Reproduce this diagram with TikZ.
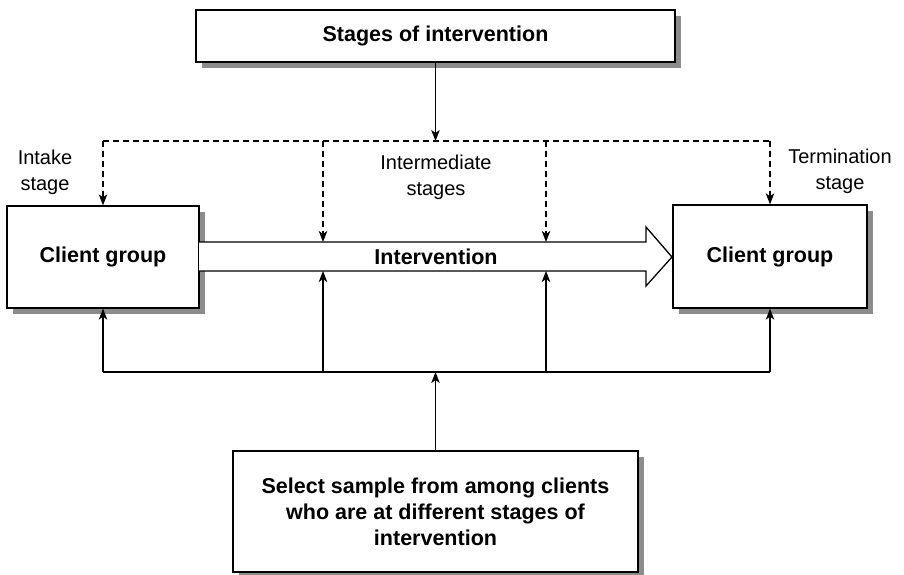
\documentclass[tikz,border=0pt]{standalone}
\usepackage{fontspec}
\setmainfont{Liberation Sans}
\usetikzlibrary{arrows.meta,shadows}
\begin{document}
\begin{tikzpicture}[x=1pt,y=-1pt,
  box/.style={draw,line width=1.3pt,fill=white,align=center,inner sep=0pt,
    font=\bfseries\fontsize{21.5}{26}\selectfont,
    drop shadow={shadow xshift=6pt,shadow yshift=-6pt,fill=black!45,opacity=1}},
  lbl/.style={align=center,inner sep=0pt,font=\fontsize{20}{26}\selectfont},
  conn/.style={line width=1.2pt,-{Stealth[length=11pt,width=8.5pt,inset=3pt]}},
  plain/.style={line width=1.2pt},
  dconn/.style={conn,dash pattern=on 6pt off 4pt},
  dplain/.style={plain,dash pattern=on 6pt off 4pt}]
\useasboundingbox (0,0) rectangle (904,575);
% boxes
\node[box,minimum width=479pt,minimum height=52pt] (top) at (435.5,36) {Stages of intervention};
\node[box,minimum width=192pt,minimum height=102pt] (left) at (103,257) {Client group};
\node[box,minimum width=194pt,minimum height=103pt] (right) at (770,256.5) {Client group};
\node[box,minimum width=405pt,minimum height=121pt] (bottom) at (435.5,511.5)
  {Select sample from among clients\\who are at different stages of\\intervention};
% big arrow
\draw[line width=1.3pt,fill=white,line join=miter] (199,242) -- (646,242) -- (646,227) -- (672,257)
  -- (646,286) -- (646,271) -- (199,271);
\node[font=\bfseries\fontsize{21.5}{26}\selectfont,inner sep=0pt] (iv) at (436,257) {Intervention};
% labels
\node[lbl] (intake) at (45,172) {Intake\\stage};
\node[lbl] (interm) at (436,177) {Intermediate\\stages};
\node[lbl] (term) at (840,171) {Termination\\stage};
% coordinates
\coordinate (jt) at (435.5,141);
\coordinate (jb) at (435.5,372);
\coordinate (a1t) at (323,242);
\coordinate (a2t) at (546,242);
\coordinate (a1b) at (323,271);
\coordinate (a2b) at (546,271);
% top connectors
\draw[conn] (top.south) -- (jt);
\draw[dplain] (left.north |- jt) -- (right.north |- jt);
\draw[dconn] (left.north |- jt) -- (left.north);
\draw[dconn] (right.north |- jt) -- (right.north);
\draw[dconn] (a1t |- jt) -- (a1t);
\draw[dconn] (a2t |- jt) -- (a2t);
% bottom connectors
\draw[conn] (bottom.north) -- (jb);
\draw[plain] (left.south |- jb) -- (right.south |- jb);
\draw[conn] (left.south |- jb) -- (left.south);
\draw[conn] (right.south |- jb) -- (right.south);
\draw[conn] (a1b |- jb) -- (a1b);
\draw[conn] (a2b |- jb) -- (a2b);
\end{tikzpicture}
\end{document}
